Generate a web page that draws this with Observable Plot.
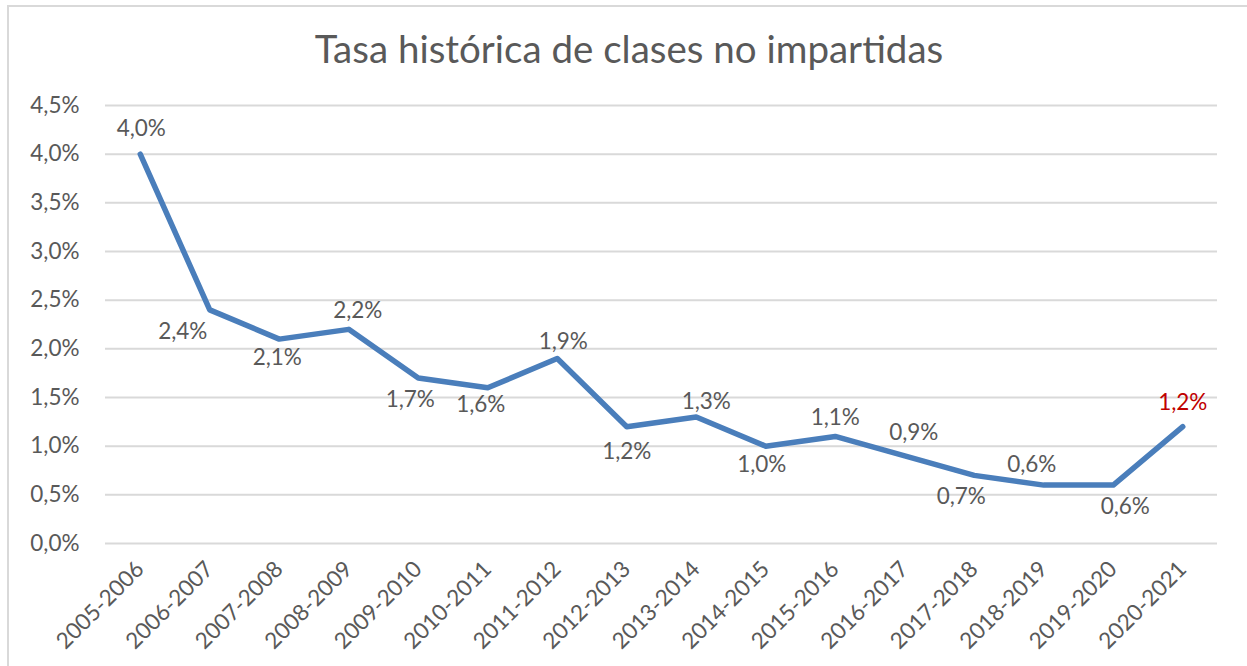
<!DOCTYPE html>
<html>
<head>
<meta charset="utf-8">
<script src="https://cdn.jsdelivr.net/npm/d3@7"></script>
<script src="https://cdn.jsdelivr.net/npm/@observablehq/plot@0.6"></script>
<style>
  html, body { margin: 0; padding: 0; background: #fff; }
  #wrap { position: relative; width: 1247px; height: 666px; overflow: hidden; font-family: Lato, "Open Sans", sans-serif; }
  #frame { position: absolute; left: 7px; top: 5px; width: 1300px; height: 700px; border-left: 2px solid #d9d9d9; border-top: 2px solid #d9d9d9; pointer-events: none; }
  #title { position: relative; height: 90px; width: 1258px; text-align: center; color: #595959; font-size: 38.5px; line-height: 1; padding-top: 29px; box-sizing: border-box; }
  #chart svg { display: block; }
</style>
</head>
<body>
<div id="wrap">
  <div id="frame"></div>
  <div id="title">Tasa histórica de clases no impartidas</div>
  <div id="chart"></div>
</div>
<script>
// Data
const years = ["2005-2006","2006-2007","2007-2008","2008-2009","2009-2010","2010-2011","2011-2012","2012-2013","2013-2014","2014-2015","2015-2016","2016-2017","2017-2018","2018-2019","2019-2020","2020-2021"];
const rates = [4.0, 2.4, 2.1, 2.2, 1.7, 1.6, 1.9, 1.2, 1.3, 1.0, 1.1, 0.9, 0.7, 0.6, 0.6, 1.2];
const yTicks = [0, 0.5, 1.0, 1.5, 2.0, 2.5, 3.0, 3.5, 4.0, 4.5];
// Label placement (layout only): nudge of each data label from its point, in px
const labelNudgeX = [1, -27, -2, 9, -8, -7, 6, 0, 10, -4, 0, 9, -13, -12, 12, 0];
const labelNudgeY = [-25, 22, 19, -19, 22, 17, -17, 25, -15, 19, -19, -23, 21, -20, 22, -24];

const fmt = v => v.toFixed(1).replace(".", ",") + "%";
const data = years.map((y, i) => ({year: y, rate: rates[i], last: i === years.length - 1}));

const gray = "#595959";
const fs = 22.5;
const chart = Plot.plot({
  width: 1247,
  height: 576,
  marginTop: 15,
  marginBottom: 123,
  marginLeft: 105,
  marginRight: 30,
  style: {fontFamily: "Lato, 'Open Sans', sans-serif", fontSize: fs + "px", color: gray, background: "transparent", overflow: "visible"},
  x: {type: "point", domain: years, padding: 0.5, round: false, label: null},
  y: {domain: [0, 4.5], label: null},
  marks: [
    Plot.gridY(yTicks, {stroke: "#d9d9d9", strokeOpacity: 1, strokeWidth: 2}),
    Plot.axisY(yTicks, {tickSize: 0, tickPadding: 26, tickFormat: fmt, fontSize: fs, fill: gray, label: null}),
    Plot.axisX({tickSize: 0, tickPadding: 22, tickRotate: -45, fontSize: fs, fill: gray, dx: 0, label: null}),
    Plot.line(data, {x: "year", y: "rate", stroke: "#4a7ebb", strokeWidth: 5.5, strokeLinejoin: "round", strokeLinecap: "round"}),
    ...data.map((d, i) => Plot.text([d], {
      x: "year", y: "rate", text: e => fmt(e.rate),
      dx: labelNudgeX[i], dy: labelNudgeY[i],
      fill: d.last ? "#c00000" : gray,
      fontSize: fs
    }))
  ]
});
document.getElementById("chart").appendChild(chart);
</script>
</body>
</html>
